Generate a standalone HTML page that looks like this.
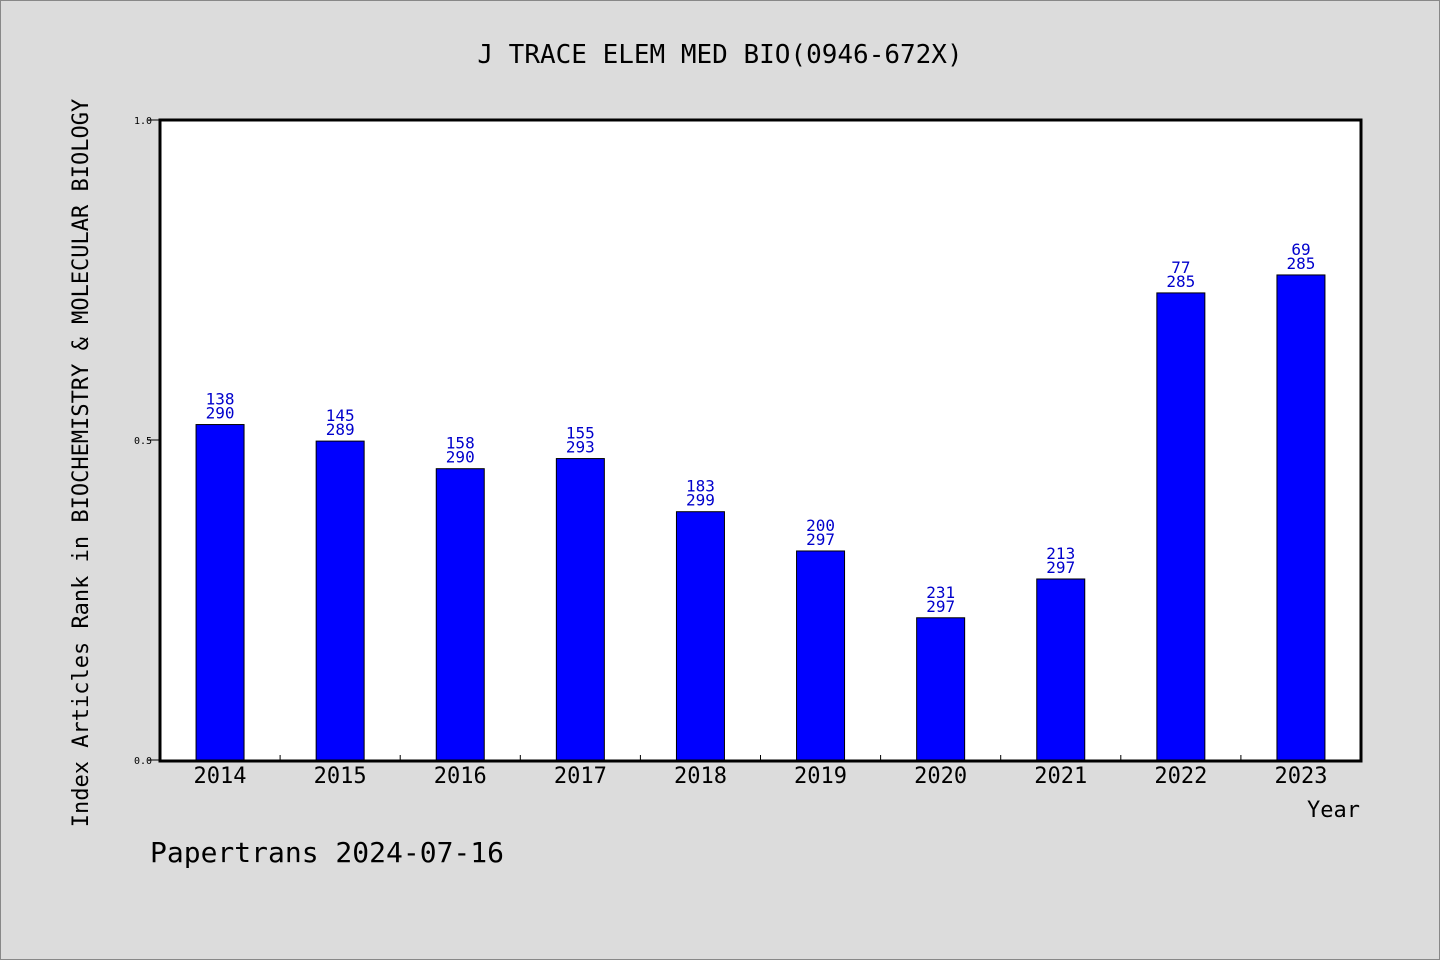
<!DOCTYPE html>
<html><head><meta charset="utf-8"><style>
body{margin:0;background:#dcdcdc;}
svg{display:block;font-family:"WenQuanYi Zen Hei","DejaVu Sans Mono",monospace;}
</style></head><body>
<svg id="chart" width="1440" height="960" xmlns="http://www.w3.org/2000/svg">
<rect x="0.5" y="0.5" width="1439" height="959" fill="#dcdcdc" stroke="#888"/>
<text x="720" y="63" font-size="26" text-anchor="middle">J TRACE ELEM MED BIO(0946-672X)</text>
<rect x="160" y="120" width="1201" height="641" fill="#fff" stroke="#000" stroke-width="3"/>
<text transform="translate(88,463) rotate(-90)" font-size="22" text-anchor="middle">Index Articles Rank in BIOCHEMISTRY &amp; MOLECULAR BIOLOGY</text>
<text x="1360" y="817" font-size="22" text-anchor="end">Year</text>
<text x="150" y="862" font-size="28">Papertrans 2024-07-16</text>
<g id="marks"></g>
</svg>
<script>
const years=["2014","2015","2016","2017","2018","2019","2020","2021","2022","2023"];
const ranks=[138,145,158,155,183,200,231,213,77,69];
const totals=[290,289,290,293,299,297,297,297,285,285];
const yTicks=[0,0.5,1.0];
const yTickLabels=["0.0","0.5","1.0"];
const NS="http://www.w3.org/2000/svg";
const g=document.getElementById('marks');
const x0=160,x1=1361,yb=760,yt=120;
const band=(x1-x0)/years.length;
const xs=i=>x0+band*(i+0.5);
const ys=v=>yb-(yb-yt)*v;
function mk(t,a){const e=document.createElementNS(NS,t);for(const k in a)e.setAttribute(k,a[k]);g.appendChild(e);return e;}
yTicks.forEach((v,i)=>{
 const l=mk('line',{x1:148,x2:160,y1:ys(v),y2:ys(v),stroke:'#000'});
 
 
 const t=mk('text',{x:152,y:ys(v)+4,'font-size':10,'text-anchor':'end'});
 t.textContent=yTickLabels[i];
 
 
});
years.forEach((y,i)=>{
 const v=(totals[i]-ranks[i])/totals[i];
 const top=ys(v);
 const b=mk('rect',{x:xs(i)-24,y:top,width:48,height:yb-top,fill:'#0000ff',stroke:'#000','stroke-width':1});
 
 
 const t1=mk('text',{x:xs(i),y:top-20,'font-size':16,fill:'#0000cc','text-anchor':'middle'});
 t1.textContent=ranks[i];
 
 
 const t2=mk('text',{x:xs(i),y:top-6,'font-size':16,fill:'#0000cc','text-anchor':'middle'});
 t2.textContent=totals[i];
 
 
 const xl=mk('text',{x:xs(i),y:783,'font-size':22,'text-anchor':'middle'});
 xl.textContent=y;
 
 
 if(i>0){const tk=mk('line',{x1:x0+band*i,x2:x0+band*i,y1:755,y2:761,stroke:'#000'});
 
 }
});
</script>
</body></html>
